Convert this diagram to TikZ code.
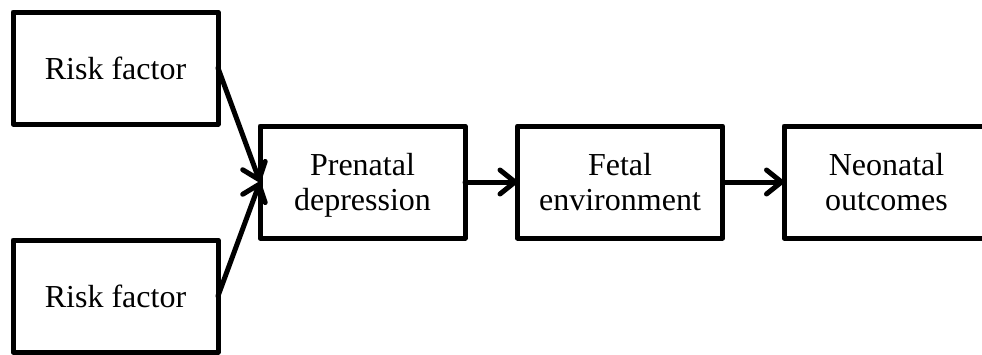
\documentclass[tikz,border=0pt]{standalone}
\usepackage{fontspec}
\setmainfont{Liberation Serif}
\usetikzlibrary{arrows.meta}
\newcommand{\toprule}{\rule{0pt}{33pt}}
\begin{document}
\begin{tikzpicture}[x=1pt,y=-1pt,
  frame/.style={draw=black, line width=5pt, line join=round},
  box/.style={frame, fill=white,
    minimum width=205pt, minimum height=112pt, inner sep=0pt, outer sep=0pt,
    align=center, font=\fontsize{32}{35}\selectfont},
  link/.style={line width=5pt, line cap=round,
    -{Straight Barb[length=15pt,width=24pt,line cap=round,line join=round]}}]
\useasboundingbox (0,0) rectangle (982,354);
\node[box] (rt) at (115.5,68) {Risk factor};
\node[box] (rb) at (115.5,296) {Risk factor};
\node[box] (pd) at (362.5,182) {\toprule Prenatal\\depression\strut};
\node[box] (fe) at (620,182) {\toprule Fetal\\environment\strut};
\node[box, draw=none] (no) at (886.5,182) {\toprule Neonatal\\outcomes\strut};
% the last box runs on past the right margin
\draw[frame] ([xshift=30pt]no.north east) -- (no.north west)
  -- (no.south west) -- ([xshift=30pt]no.south east);
\draw[link] (rt.east) -- (pd.west);
\draw[link] (rb.east) -- (pd.west);
\draw[link] (pd.east) -- (fe.west);
\draw[link] (fe.east) -- (no.west);
\end{tikzpicture}
\end{document}
